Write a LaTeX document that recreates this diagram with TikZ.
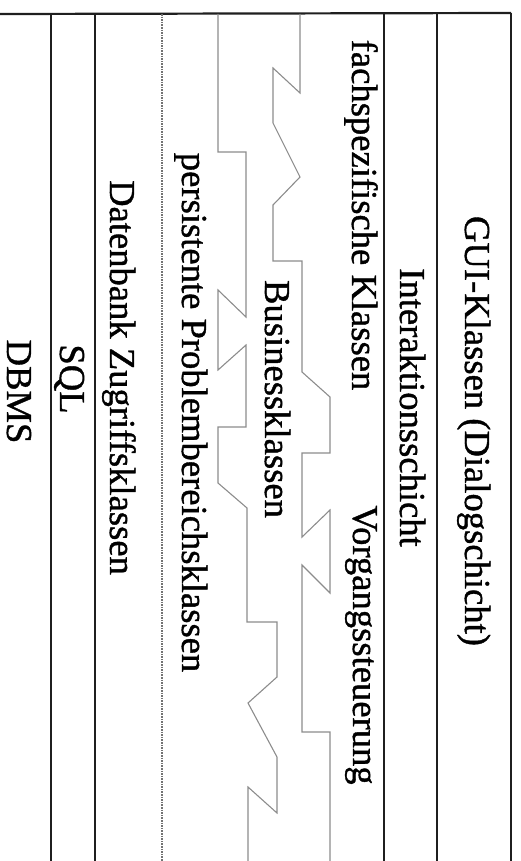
\documentclass[tikz,border=0pt]{standalone}
\usepackage{fontspec}
\setmainfont{Liberation Serif}
\newfontfamily\lblfont[FakeBold=1.0]{Liberation Serif}
\begin{document}
\begin{tikzpicture}[x=1pt,y=-1pt,
  rule/.style={line width=1.7pt, black!88},
  thickrule/.style={line width=2.6pt, black!88},
  dotrule/.style={line width=1.6pt, black!55, densely dotted},
  seam/.style={line width=1.1pt, black!45, line join=miter},
  lbl/.style={rotate=-90, anchor=base, inner sep=0pt, font=\lblfont\fontsize{36.6}{40}\selectfont}]
\useasboundingbox (0,0) rectangle (520,861);
% frame
\coordinate (tl) at (0,14);
\coordinate (tr) at (511,13);
\coordinate (br) at (511,861);
\draw[rule, line width=2.2pt] (tl) -- (tr);
\draw[rule] (tr) -- (br);
% layer boundaries
\draw[rule] (51,14) -- (51,861);
\draw[thickrule] (95,14) -- (95,861);
\draw[dotrule] (162,14) -- (162,861);
\draw[rule] (384,14) -- (384,861);
\draw[rule] (437,14) -- (437,861);
% right seam (fachspezifische / Business)
\draw[seam] (300,14) -- (300,93) -- (273,68) -- (273,123) -- (300,177) -- (273,205)
  -- (273,261) -- (302,261) -- (302,372) -- (330,397) -- (330,453) -- (302,453)
  -- (302,537) -- (330,510) -- (330,593) -- (302,565) -- (302,732) -- (330,732)
  -- (330,861);
% left seam (Business / persistente)
\draw[seam] (218,14) -- (218,152) -- (246,152) -- (246,317) -- (218,290) -- (218,370)
  -- (246,345) -- (246,427) -- (218,427) -- (218,483) -- (247,508) -- (247,622)
  -- (277,622) -- (277,677) -- (248,703) -- (277,757) -- (277,813) -- (248,787)
  -- (248,861);
% labels
\node[lbl] (gui)  at (465,431)   {GUI-Klassen (Dialogschicht)};
\node[lbl] (ia)   at (400,407.5) {Interaktionsschicht};
\node[lbl] (fach) at (352,215)   {fachspezifische Klassen};
\node[lbl] (vorg) at (353,645)   {Vorgangssteuerung};
\node[lbl] (bus)  at (265,399)   {Businessklassen};
\node[lbl] (pers) at (182,412.5) {persistente Problembereichsklassen};
\node[lbl] (dbz)  at (110,377.5) {Datenbank Zugriffsklassen};
\node[lbl] (sql)  at (60,379)    {SQL};
\node[lbl] (dbms) at (7,391.5)   {DBMS};
\end{tikzpicture}
\end{document}
